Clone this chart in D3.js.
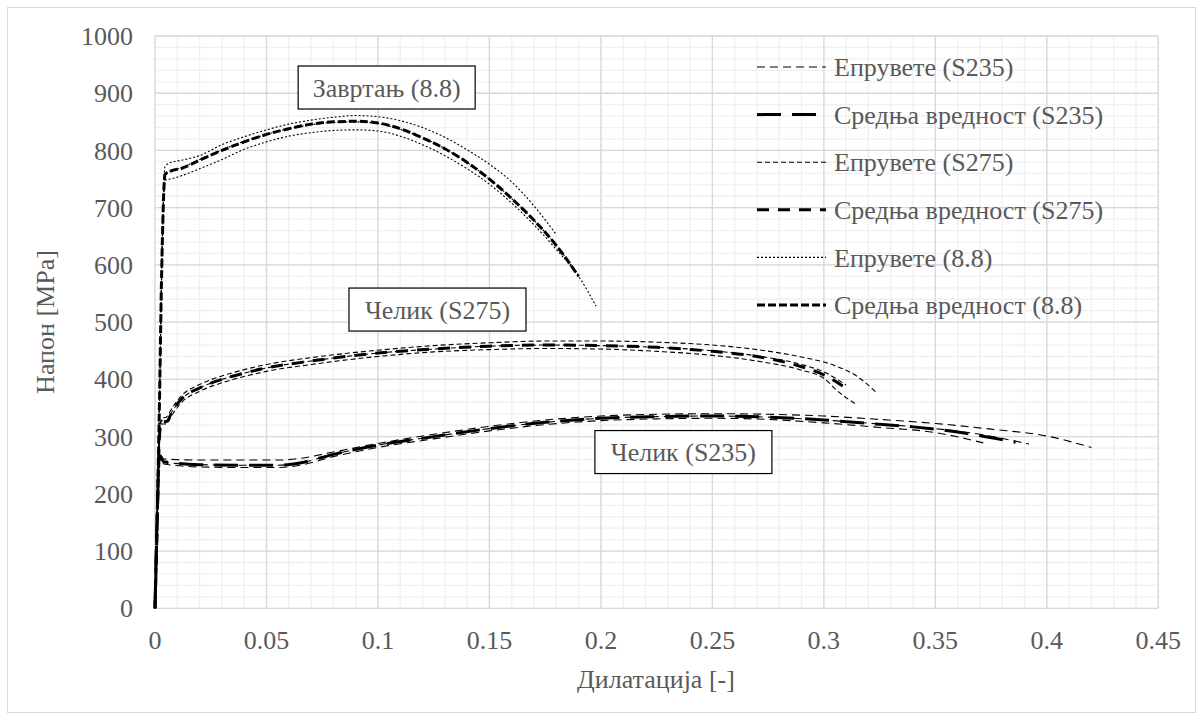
<!DOCTYPE html>
<html>
<head>
<meta charset="utf-8">
<script src="https://cdn.jsdelivr.net/npm/d3@7"></script>
</head>
<body style="margin:0">
<svg id="chart" width="1203" height="720"></svg>
<script>
// ---- data: [strain, stress MPa] ----
const s235Spec1 = [[0,0],[0.0012,200],[0.002,270],[0.004,261],[0.02,259],[0.04,259],[0.055,259],[0.065,262],[0.08,273],[0.1,288],[0.125,304],[0.15,318],[0.175,329],[0.2,336],[0.225,339],[0.25,340],[0.275,339],[0.3,336],[0.325,330],[0.35,323],[0.375,313],[0.4,301],[0.42,281]];
const s235Spec2 = [[0,0],[0.0012,195],[0.002,265],[0.004,255],[0.02,251],[0.04,250],[0.055,250],[0.065,254],[0.08,269],[0.1,285],[0.125,300],[0.15,314],[0.175,325],[0.2,332],[0.225,335],[0.25,336],[0.275,334],[0.3,329],[0.325,322],[0.35,314],[0.37,304],[0.392,287]];
const s235Spec3 = [[0,0],[0.0012,190],[0.002,262],[0.004,252],[0.02,247],[0.04,246],[0.055,246],[0.065,250],[0.08,265],[0.1,281],[0.125,296],[0.15,310],[0.175,321],[0.2,328],[0.225,331],[0.25,332],[0.275,330],[0.3,324],[0.325,316],[0.35,307],[0.3715,289]];
const s235Mean  = [[0,0],[0.0012,195],[0.002,266],[0.004,256],[0.02,251],[0.04,250],[0.055,250],[0.065,254],[0.08,269],[0.1,285],[0.125,300],[0.15,314],[0.175,325],[0.2,332],[0.225,335],[0.25,336],[0.275,334],[0.3,329],[0.32,323],[0.34,317],[0.36,308],[0.386,290]];

const s275Spec1 = [[0,0],[0.001,150],[0.002,300],[0.003,332],[0.005,334],[0.008,352],[0.012,372],[0.02,391],[0.03,406],[0.04,417],[0.05,426],[0.07,438],[0.1,451],[0.125,459],[0.15,464],[0.175,467],[0.2,467],[0.225,465],[0.25,460],[0.27,452],[0.29,439],[0.305,424],[0.315,405],[0.3233,378]];
const s275Spec2 = [[0,0],[0.001,150],[0.002,300],[0.003,328],[0.005,328],[0.008,346],[0.012,366],[0.02,385],[0.03,400],[0.04,411],[0.05,420],[0.07,432],[0.1,446],[0.125,453],[0.15,458],[0.175,460],[0.2,459],[0.225,456],[0.25,450],[0.27,441],[0.29,426],[0.3,413],[0.31,390]];
const s275Spec3 = [[0,0],[0.001,150],[0.002,300],[0.003,322],[0.005,322],[0.008,340],[0.012,360],[0.02,379],[0.03,394],[0.04,405],[0.05,414],[0.07,426],[0.1,440],[0.125,448],[0.15,452],[0.175,454],[0.2,453],[0.225,449],[0.25,442],[0.27,432],[0.29,416],[0.3,402],[0.306,380],[0.3139,358]];
const s275Mean  = [[0,0],[0.001,150],[0.002,300],[0.003,326],[0.005,326],[0.008,346],[0.012,366],[0.02,385],[0.03,400],[0.04,411],[0.05,420],[0.07,432],[0.1,446],[0.125,453],[0.15,458],[0.175,460],[0.2,459],[0.225,456],[0.25,449],[0.27,440],[0.29,422],[0.3,408],[0.309,387]];

const b88Spec1 = [[0,0],[0.001,160],[0.002,360],[0.003,590],[0.0045,772],[0.007,779],[0.012,783],[0.02,791],[0.03,810],[0.04,824],[0.05,836],[0.06,846],[0.07,853],[0.08,858],[0.09,861],[0.1,859],[0.11,852],[0.12,840],[0.13,823],[0.14,801],[0.15,776],[0.16,745],[0.17,703],[0.18,653]];
const b88Spec2 = [[0,0],[0.001,160],[0.002,360],[0.003,590],[0.0045,760],[0.007,764],[0.012,770],[0.02,784],[0.03,801],[0.04,816],[0.05,828],[0.06,838],[0.07,845],[0.08,849],[0.09,850],[0.1,847],[0.11,837],[0.12,822],[0.13,803],[0.14,779],[0.15,750],[0.16,716],[0.17,678],[0.18,634],[0.19,582]];
const b88Spec3 = [[0,0],[0.001,160],[0.002,360],[0.003,590],[0.0045,748],[0.008,751],[0.012,756],[0.02,768],[0.03,784],[0.04,802],[0.05,815],[0.06,825],[0.07,831],[0.08,835],[0.09,836],[0.1,834],[0.11,825],[0.12,810],[0.13,791],[0.14,768],[0.15,741],[0.16,708],[0.17,670],[0.18,627],[0.19,580],[0.1978,528]];
const b88Mean  = [[0,0],[0.001,160],[0.002,360],[0.003,590],[0.0045,758],[0.007,764],[0.012,769],[0.02,783],[0.03,800],[0.04,815],[0.05,828],[0.06,838],[0.07,846],[0.08,850],[0.09,851],[0.1,848],[0.11,838],[0.12,822],[0.13,803],[0.14,779],[0.15,750],[0.16,716],[0.17,678],[0.18,634],[0.19,580]];

const xTicks = [0, 0.05, 0.1, 0.15, 0.2, 0.25, 0.3, 0.35, 0.4, 0.45];
const xTickLabels = ["0", "0.05", "0.1", "0.15", "0.2", "0.25", "0.3", "0.35", "0.4", "0.45"];
const yTicks = [0, 100, 200, 300, 400, 500, 600, 700, 800, 900, 1000];
const legendLabels = ["Епрувете (S235)", "Средња вредност (S235)", "Епрувете (S275)",
    "Средња вредност (S275)", "Епрувете (8.8)", "Средња вредност (8.8)"];
const noteLabels = ["Завртањ (8.8)", "Челик (S275)", "Челик (S235)"];
const noteAnchors = [[0.1039, 910], [0.1267, 522], [0.237, 273]];
const xTitle = "Дилатација [-]";
const yTitle = "Напон [MPa]";

// ---- styles per legend entry ----
var styles = [
    { dash: "8,5", width: 1.1 },
    { dash: "24,11", width: 3 },
    { dash: "5,3", width: 1.1 },
    { dash: "12,9", width: 3 },
    { dash: "2,2", width: 1.1 },
    { dash: "8,3", width: 3 }
];
var series = [
    { data: s235Spec1, s: 0 }, { data: s235Spec2, s: 0 }, { data: s235Spec3, s: 0 }, { data: s235Mean, s: 1 },
    { data: s275Spec1, s: 2 }, { data: s275Spec2, s: 2 }, { data: s275Spec3, s: 2 }, { data: s275Mean, s: 3 },
    { data: b88Spec1, s: 4 }, { data: b88Spec2, s: 4 }, { data: b88Spec3, s: 4 }, { data: b88Mean, s: 5 }
];

const svg = d3.select("#chart");
const fontSize = 26;
const fontName = "Times New Roman";
const textColor = "#595959";

function label(sel) {
    return sel.attr("font-family", fontName)
        .style("font-family", fontName)
        .attr("font-size", fontSize)
        .attr("fill", textColor);
}

svg.append("rect")
    .attr("x", 7.5).attr("y", 7.5)
    .attr("width", 1188).attr("height", 705)
    .attr("fill", "#fff").attr("stroke", "#d9d9d9");

let x = d3.scaleLinear().domain([0, 0.45]).range([155, 1158.3]);
let y = d3.scaleLinear().domain([0, 1000]).range([608.3, 36]);

// minor grid
let grid = svg.append("g");
grid.selectAll(".vminor").data(x.ticks(45)).enter().append("line")
    .attr("x1", d => x(d)).attr("x2", d => x(d))
    .attr("y1", y(0)).attr("y2", y(1000))
    .attr("stroke", "#f0f0f0").attr("stroke-width", 1.3);
grid.selectAll(".hminor").data(y.ticks(50)).enter().append("line")
    .attr("x1", x(0)).attr("x2", x(0.45))
    .attr("y1", d => y(d)).attr("y2", d => y(d))
    .attr("stroke", "#f0f0f0").attr("stroke-width", 1.3);
// major grid
grid.selectAll(".vmajor").data(xTicks).enter().append("line")
    .attr("x1", d => x(d)).attr("x2", d => x(d))
    .attr("y1", y(0)).attr("y2", y(1000))
    .attr("stroke", "#d9d9d9").attr("stroke-width", 1.3);
grid.selectAll(".hmajor").data(yTicks).enter().append("line")
    .attr("x1", x(0)).attr("x2", x(0.45))
    .attr("y1", d => y(d)).attr("y2", d => y(d))
    .attr("stroke", "#d9d9d9").attr("stroke-width", 1.3);

// tick labels, placed through the scales
svg.append("g").selectAll("text")
    .data(xTicks)
    .enter()
    .append("text")
    .attr("x", d => x(d))
    .attr("y", y(0) + 41)
    .attr("text-anchor", "middle")
    .call(label)
    .text((d, i) => xTickLabels[i]);

svg.append("g").selectAll("text")
    .data(yTicks)
    .enter()
    .append("text")
    .attr("x", x(0) - 22)
    .attr("y", d => y(d))
    .attr("dy", "0.35em")
    .attr("text-anchor", "end")
    .call(label)
    .text(d => d);

svg.append("text")
    .attr("x", 656).attr("y", 688)
    .attr("text-anchor", "middle")
    .call(label)
    .text(xTitle);
svg.append("text")
    .attr("transform", "translate(54,322) rotate(-90)")
    .attr("text-anchor", "middle")
    .call(label)
    .text(yTitle);

// curves
let line = d3.line()
    .x(d => x(d[0]))
    .y(d => y(d[1]))
    .curve(d3.curveMonotoneX);

svg.append("g").selectAll("path")
    .data(series)
    .enter()
    .append("path")
    .attr("d", d => line(d.data))
    .attr("fill", "none")
    .attr("stroke", "#000")
    .attr("stroke-width", d => styles[d.s].width)
    .attr("stroke-dasharray", d => styles[d.s].dash);

// annotation boxes
let notes = svg.append("g").selectAll("g")
    .data(noteLabels)
    .enter()
    .append("g")
    .attr("transform", (d, i) => "translate(" + x(noteAnchors[i][0]) + "," + y(noteAnchors[i][1]) + ")");
notes.append("rect")
    .attr("x", -88.5).attr("y", -21.5)
    .attr("width", 177).attr("height", 43)
    .attr("fill", "#fff").attr("stroke", "#000").attr("stroke-width", 1.2);
notes.append("text")
    .attr("text-anchor", "middle")
    .attr("dy", "0.35em")
    .call(label)
    .text(d => d);

// legend
let legend = svg.append("g").selectAll("g")
    .data(legendLabels)
    .enter()
    .append("g")
    .attr("transform", (d, i) => "translate(757," + (67 + i * 47.6) + ")");
legend.append("line")
    .attr("x1", 0).attr("x2", 69)
    .attr("stroke", "#000")
    .attr("stroke-width", (d, i) => styles[i].width)
    .attr("stroke-dasharray", (d, i) => styles[i].dash);
legend.append("text")
    .attr("x", 77)
    .attr("dy", "0.35em")
    .call(label)
    .text(d => d);
</script>
</body>
</html>
